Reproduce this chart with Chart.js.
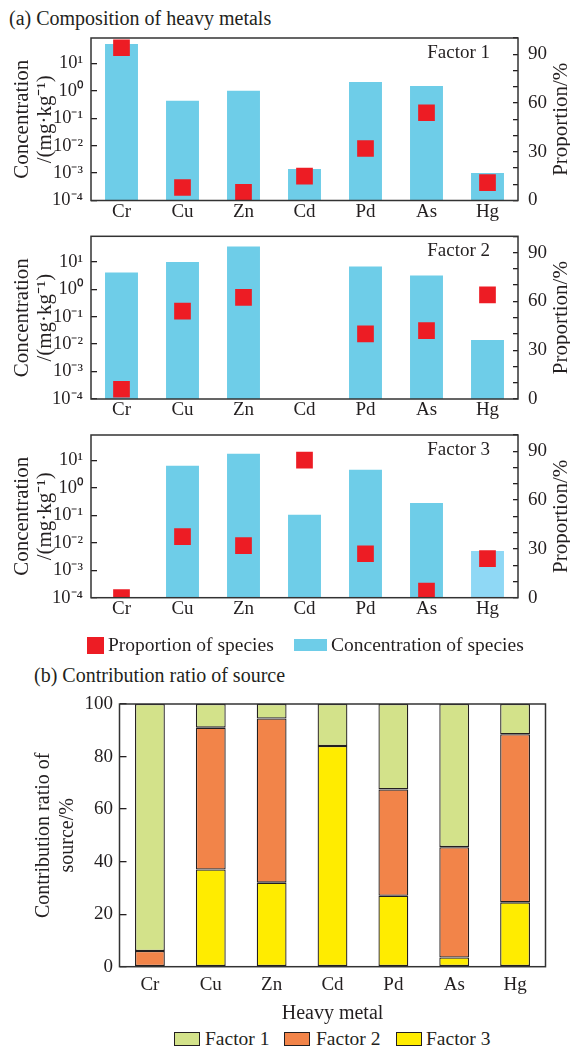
<!DOCTYPE html>
<html>
<head>
<meta charset="utf-8">
<script src="https://cdn.jsdelivr.net/npm/chart.js@4.4.1/dist/chart.umd.min.js"></script>
<style>
  body { margin: 0; width: 570px; height: 1048px; background: #fff; position: relative; overflow: hidden;
         font-family: "Liberation Serif", "Times New Roman", serif; color: #231f20; }
  canvas { position: absolute; left: 0; }
  .ttl { position: absolute; font-size: 20px; line-height: 20px; white-space: nowrap; }
  .lbl { position: absolute; font-size: 19.5px; line-height: 20px; white-space: nowrap; }
  .box { position: absolute; }
</style>
</head>
<body>
<div class="ttl" style="left:9px; top:8px">(a) Composition of heavy metals</div>
<canvas id="f1" width="570" height="230" style="top:0"></canvas>
<canvas id="f2" width="570" height="208" style="top:222px"></canvas>
<canvas id="f3" width="570" height="208" style="top:422px"></canvas>

<div class="box" style="left:87px; top:637px; width:17px; height:17px; background:#ed1c24"></div>
<div class="lbl" style="left:108px; top:635px">Proportion of species</div>
<div class="box" style="left:294px; top:639px; width:33px; height:12px; background:#6ecde8"></div>
<div class="lbl" style="left:331px; top:635px">Concentration of species</div>

<div class="ttl" style="left:34px; top:665px">(b) Contribution ratio of source</div>
<canvas id="fb" width="570" height="338" style="top:690px"></canvas>

<div class="box" style="left:174px; top:1032px; width:24px; height:12px; background:#d3e28a; border:1px solid #231f20"></div>
<div class="lbl" style="left:205px; top:1029px">Factor 1</div>
<div class="box" style="left:284px; top:1032px; width:24px; height:12px; background:#f28449; border:1px solid #231f20"></div>
<div class="lbl" style="left:316px; top:1029px">Factor 2</div>
<div class="box" style="left:396px; top:1032px; width:24px; height:12px; background:#ffec00; border:1px solid #231f20"></div>
<div class="lbl" style="left:426px; top:1029px">Factor 3</div>

<script>
// heavy metals on the x axis
const metals = ['Cr', 'Cu', 'Zn', 'Cd', 'Pd', 'As', 'Hg'];

// concentration of species, mg/kg (log axis)
const conc1 = [51, 0.44, 1.02, 0.0014, 2.1, 1.5, 0.001];
const conc2 = [4.1, 9.8, 36, null, 6.7, 3.2, 0.014];
const conc3 = [null, 6.4, 17.5, 0.105, 4.6, 0.28, 0.005];

// proportion of species, %
const prop1 = [94, 8, 5, 15, 32, 54, 11];
const prop2 = [6, 54, 62.5, null, 40, 42, 64];
const prop3 = [0, 37.5, 32, 84.5, 27, 4, 24];

// contribution ratio of source, %
const share1 = [94, 9, 5.5, 16, 32.5, 54.5, 11.5];
const share2 = [6, 54, 62.5, 0, 40.5, 42, 64];
const share3 = [0, 37, 32, 84, 27, 3.5, 24.5];

// tick labels
const concTicks = [1e-4, 1e-3, 1e-2, 1e-1, 1, 10];
const concTickLabels = ['10⁻⁴', '10⁻³', '10⁻²', '10⁻¹', '10⁰', '10¹'];
const propTickLabels = [0, 30, 60, 90];

const INK = '#231f20';
const RED = '#ed1c24';
const BLUE = '#6ecde8';
const BLUE_PALE = '#8fd8f5';

Chart.defaults.font.family = '"Liberation Serif", "Times New Roman", serif';
Chart.defaults.color = INK;

// fixed axis sizes so the plot areas land where the figure has them
const fixWidth = w => s => { s.width = w; s.paddingTop = 0; s.paddingBottom = 0; };
const fixHeight = h => s => { s.height = h; s.paddingLeft = 0; s.paddingRight = 0; };

// box around the plot area
const frame = {
  id: 'frame',
  afterDraw(chart) {
    const { ctx, chartArea: a } = chart;
    ctx.save();
    ctx.strokeStyle = '#333';
    ctx.lineWidth = 1.5;
    ctx.strokeRect(a.left, a.top, a.right - a.left, a.bottom - a.top);
    ctx.restore();
  }
};

// "Factor n" in the top right corner
const tag = {
  id: 'tag',
  afterDraw(chart, args, opts) {
    const { ctx, chartArea: a } = chart;
    ctx.save();
    ctx.font = '19px "Liberation Serif"';
    ctx.fillStyle = INK;
    ctx.textAlign = 'right';
    ctx.textBaseline = 'middle';
    ctx.fillText(opts.text, a.right - 28, a.top + 15);
    ctx.restore();
  }
};

// right axis title, reading bottom to top
const sideTitle = {
  id: 'sideTitle',
  afterDraw(chart, args, opts) {
    const { ctx, chartArea: a } = chart;
    ctx.save();
    ctx.translate(opts.x, (a.top + a.bottom) / 2);
    ctx.rotate(-Math.PI / 2);
    ctx.font = '21px "Liberation Serif"';
    ctx.fillStyle = INK;
    ctx.textAlign = 'center';
    ctx.textBaseline = 'middle';
    ctx.fillText(opts.text, 0, 0);
    ctx.restore();
  }
};

function factorChart(id, conc, prop, name, padTop, xHeight, paleBar) {
  return new Chart(document.getElementById(id), {
    type: 'bar',
    data: {
      labels: metals,
      datasets: [
        {
          type: 'line',
          label: 'Proportion of species',
          data: prop,
          yAxisID: 'y1',
          showLine: false,
          pointStyle: 'rect',
          pointRadius: 11.8,
          pointBackgroundColor: RED,
          pointBorderWidth: 0,
          clip: 0,
          order: 0
        },
        {
          label: 'Concentration of species',
          data: conc,
          yAxisID: 'y',
          backgroundColor: c => (c.dataIndex === paleBar ? BLUE_PALE : BLUE),
          barPercentage: 0.54,
          categoryPercentage: 1,
          order: 1
        }
      ]
    },
    options: {
      responsive: false,
      animation: false,
      events: [],
      layout: { padding: { top: padTop, left: 0, right: 0, bottom: 0 } },
      plugins: {
        legend: { display: false },
        tooltip: { enabled: false },
        tag: { text: name },
        sideTitle: { text: 'Proportion/%', x: 561 }
      },
      scales: {
        x: {
          grid: { display: false, drawTicks: false },
          border: { display: false },
          ticks: { padding: 0, font: { size: 19 } },
          afterFit: fixHeight(xHeight)
        },
        y: {
          type: 'logarithmic',
          position: 'left',
          min: 1e-4,
          max: 85,
          grid: { drawOnChartArea: false, tickLength: -6, color: INK, lineWidth: 1.3 },
          border: { display: false },
          afterBuildTicks: s => { s.ticks = concTicks.map(v => ({ value: v })); },
          ticks: { autoSkip: false, padding: 14, font: { size: 18.5 }, callback: (v, i) => concTickLabels[i] },
          title: {
            display: true,
            text: ['Concentration', '/(mg·kg⁻¹)'],
            font: { size: 21, lineHeight: 1.1 },
            padding: { top: 10.5, bottom: 0 }
          },
          afterFit: fixWidth(91)
        },
        y1: {
          position: 'right',
          min: 0,
          max: 100,
          grid: { drawOnChartArea: false, tickLength: -5, color: INK, lineWidth: 1.3 },
          border: { display: false },
          ticks: {
            stepSize: 10,
            autoSkip: false,
            padding: 15,
            font: { size: 19 },
            callback: v => (propTickLabels.includes(v) ? String(v) : '')
          },
          afterFit: fixWidth(52)
        }
      }
    },
    plugins: [frame, tag, sideTitle]
  });
}

factorChart('f1', conc1, prop1, 'Factor 1', 38, 29.5, -1);
factorChart('f2', conc2, prop2, 'Factor 2', 14.3, 31, -1);
factorChart('f3', conc3, prop3, 'Factor 3', 13, 32.3, 6);

// (b) stacked contribution of each factor
new Chart(document.getElementById('fb'), {
  type: 'bar',
  data: {
    labels: metals,
    datasets: [
      { label: 'Factor 3', data: share3, backgroundColor: '#ffec00' },
      { label: 'Factor 2', data: share2, backgroundColor: '#f28449' },
      { label: 'Factor 1', data: share1, backgroundColor: '#d3e28a' }
    ].map(d => Object.assign(d, {
      borderColor: INK,
      borderWidth: 1.3,
      borderSkipped: false,
      barPercentage: 0.49,
      categoryPercentage: 1
    }))
  },
  options: {
    responsive: false,
    animation: false,
    events: [],
    layout: { padding: { top: 14, left: 0, right: 24.5, bottom: 0 } },
    plugins: { legend: { display: false }, tooltip: { enabled: false } },
    scales: {
      x: {
        stacked: true,
        grid: { display: false, drawTicks: false },
        border: { display: false },
        ticks: { padding: 7, font: { size: 19 } },
        title: { display: true, text: 'Heavy metal', font: { size: 20 }, padding: { top: 0, bottom: 2 } },
        afterFit: fixHeight(61.3)
      },
      y: {
        stacked: true,
        min: 0,
        max: 100,
        grid: { drawOnChartArea: false, tickLength: -7, color: INK, lineWidth: 1.3 },
        border: { display: false },
        ticks: { stepSize: 20, autoSkip: false, padding: 13.5, font: { size: 19 } },
        title: {
          display: true,
          text: ['Contribution ratio of', 'source/%'],
          font: { size: 20, lineHeight: 1.2 },
          padding: { top: 31.5, bottom: 0 }
        },
        afterFit: fixWidth(119.5)
      }
    }
  },
  plugins: [frame]
});
</script>
</body>
</html>
